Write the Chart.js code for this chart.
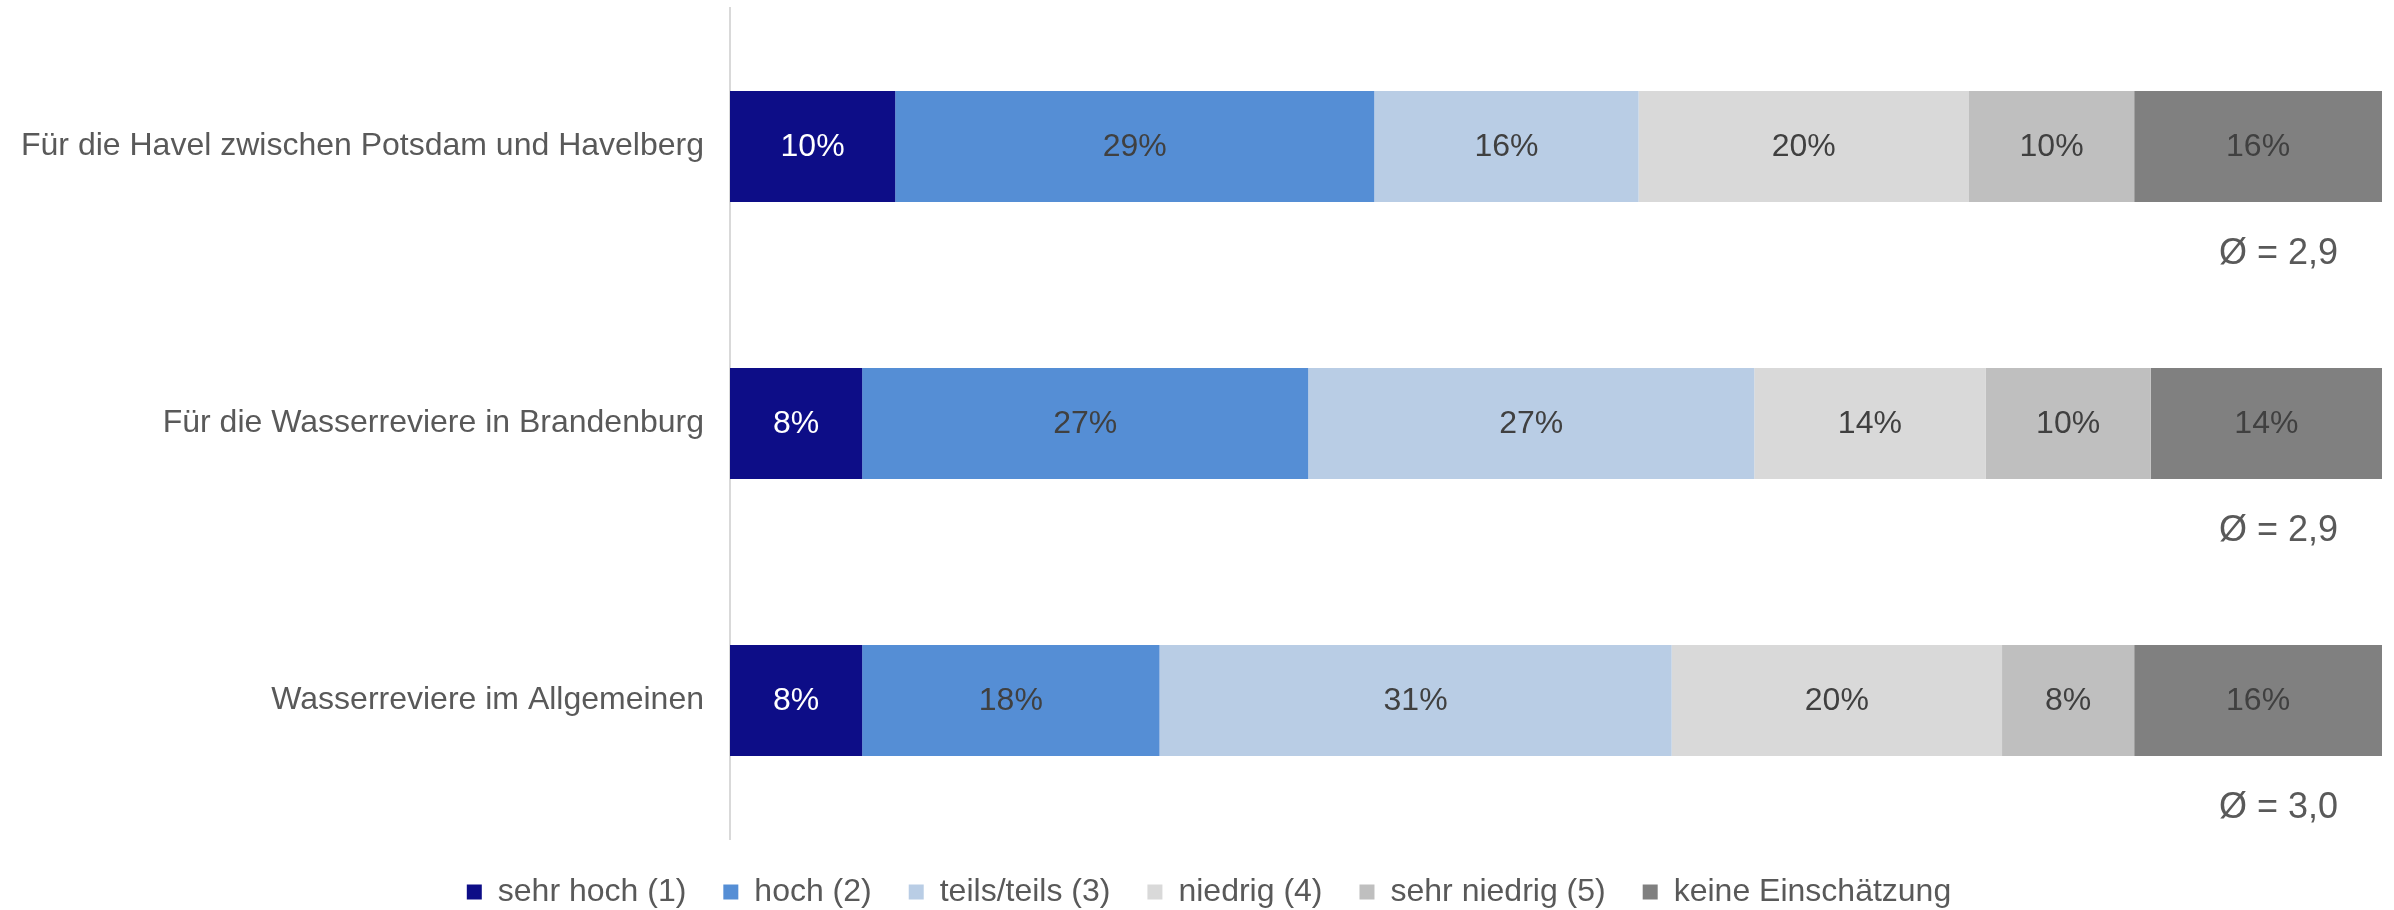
<!DOCTYPE html>
<html lang="de">
<head>
<meta charset="utf-8">
<title>Einschätzung Wasserreviere</title>
<script src="https://cdn.jsdelivr.net/npm/chart.js@4/dist/chart.umd.min.js"></script>
<style>
  html, body { margin: 0; padding: 0; background: #fff; }
  #wrap { width: 2394px; height: 910px; position: relative; }
</style>
</head>
<body>
<div id="wrap"><canvas id="ratingChart"></canvas></div>
<script>
const categories = [
    'Für die Havel zwischen Potsdam und Havelberg',
    'Für die Wasserreviere in Brandenburg',
    'Wasserreviere im Allgemeinen'
];
const sehrHoch = [10, 8, 8];
const hoch = [29, 27, 18];
const teilsTeils = [16, 27, 31];
const niedrig = [20, 14, 20];
const sehrNiedrig = [10, 10, 8];
const keineEinschaetzung = [16, 14, 16];
const averages = ['2,9', '2,9', '3,0'];

const FONT = "'Liberation Sans', Arial, sans-serif";

// percent labels inside the segments and the average below each bar
const barLabels = {
    id: 'barLabels',
    afterLayout(chart) {
        // nudge the legend a little to the right
        if (chart.legend) {
            chart.legend.left += 18;
            chart.legend.right += 18;
        }
    },
    afterDatasetsDraw(chart) {
        const ctx = chart.ctx;
        const area = chart.chartArea;
        ctx.save();
        ctx.font = '32px ' + FONT;
        ctx.textAlign = 'center';
        ctx.textBaseline = 'middle';
        chart.data.datasets.forEach((ds, di) => {
            const meta = chart.getDatasetMeta(di);
            meta.data.forEach((el, i) => {
                const right = Math.min(el.x, area.right);
                const cx = (el.base + right) / 2;
                ctx.fillStyle = di === 0 ? '#ffffff' : '#404040';
                ctx.fillText(ds.data[i] + '%', cx, el.y + 1);
            });
        });
        const last = chart.getDatasetMeta(chart.data.datasets.length - 1);
        ctx.font = '36px ' + FONT;
        ctx.textAlign = 'right';
        ctx.fillStyle = '#595959';
        last.data.forEach((el, i) => {
            ctx.fillText('Ø = ' + averages[i], area.right - 44, el.y + 108);
        });
        ctx.restore();
    }
};

const ctx = document.getElementById('ratingChart').getContext('2d');
new Chart(ctx, {
    type: 'bar',
    data: {
        labels: categories,
        datasets: [
            { label: 'sehr hoch (1)', data: sehrHoch, backgroundColor: '#0D0D87' },
            { label: 'hoch (2)', data: hoch, backgroundColor: '#558ED5' },
            { label: 'teils/teils (3)', data: teilsTeils, backgroundColor: '#B9CDE5' },
            { label: 'niedrig (4)', data: niedrig, backgroundColor: '#D9D9D9' },
            { label: 'sehr niedrig (5)', data: sehrNiedrig, backgroundColor: '#BFBFBF' },
            { label: 'keine Einschätzung', data: keineEinschaetzung, backgroundColor: '#808080' }
        ]
    },
    options: {
        indexAxis: 'y',
        responsive: true,
        maintainAspectRatio: false,
        animation: false,
        layout: { padding: { top: 8, right: 12, left: 0, bottom: -8 } },
        datasets: {
            bar: { categoryPercentage: 1, barPercentage: 0.4, borderWidth: 0 }
        },
        scales: {
            x: { stacked: true, min: 0, max: 100, display: false },
            y: {
                stacked: true,
                grid: { display: false, drawTicks: false },
                border: { display: true, color: '#D9D9D9', width: 2 },
                ticks: { color: '#595959', font: { size: 32, family: FONT }, padding: 26 },
                afterFit(scale) {
                    scale.width = 730;
                    scale.paddingTop = 0;
                    scale.paddingBottom = 0;
                }
            }
        },
        plugins: {
            legend: {
                position: 'bottom',
                labels: {
                    color: '#595959',
                    font: { size: 32, family: FONT },
                    boxWidth: 15,
                    boxHeight: 15,
                    padding: 37
                }
            },
            tooltip: { enabled: false }
        }
    },
    plugins: [barLabels]
});
</script>
</body>
</html>
